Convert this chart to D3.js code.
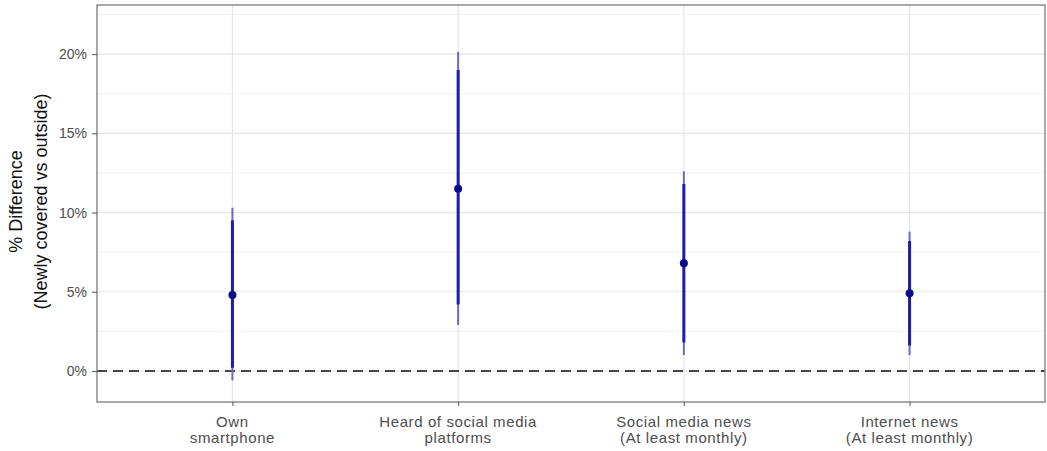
<!DOCTYPE html>
<html>
<head>
<meta charset="utf-8">
<script src="https://cdn.jsdelivr.net/npm/d3@7"></script>
<style>
  body { margin: 0; background: #fff; }
  text { font-family: 'Liberation Sans', Arial, sans-serif; }
</style>
</head>
<body>
<div id="chart"></div>
<script>
// estimates with two interval widths
const categories = [
  ['Own', 'smartphone'],
  ['Heard of social media', 'platforms'],
  ['Social media news', '(At least monthly)'],
  ['Internet news', '(At least monthly)']
]
const estimates = [4.8, 11.5, 6.8, 4.9]
const innerLow = [0.2, 4.2, 1.8, 1.6]
const innerHigh = [9.5, 19.0, 11.8, 8.2]
const outerLow = [-0.6, 2.9, 1.0, 1.0]
const outerHigh = [10.3, 20.15, 12.6, 8.8]
const yTicks = [0, 5, 10, 15, 20]
const yMinor = [2.5, 7.5, 12.5, 17.5, 22.5]

const margin = { top: 5, right: 2, bottom: 49, left: 97 }
const width = 1047 - margin.left - margin.right
const height = 451 - margin.top - margin.bottom

const svg = d3
  .select('#chart')
  .append('svg')
  .attr('width', 1047)
  .attr('height', 451)
  .append('g')
  .attr('transform', 'translate(' + margin.left + ',' + margin.top + ')')

const idx = d3.range(categories.length)

const xPositionScale = d3
  .scaleLinear()
  .domain([0.4, 4.6])
  .range([0, width])

const yPositionScale = d3
  .scaleLinear()
  .domain([-1.96, 23.1])
  .range([height, 0])

// grid
svg.selectAll('.minor')
  .data(yMinor)
  .enter()
  .append('line')
  .attr('x1', 0)
  .attr('x2', width)
  .attr('y1', d => yPositionScale(d))
  .attr('y2', d => yPositionScale(d))
  .attr('stroke', '#f2f2f2')
  .attr('stroke-width', 1)

svg.selectAll('.major')
  .data(yTicks)
  .enter()
  .append('line')
  .attr('x1', 0)
  .attr('x2', width)
  .attr('y1', d => yPositionScale(d))
  .attr('y2', d => yPositionScale(d))
  .attr('stroke', '#e6e6e6')
  .attr('stroke-width', 1.2)

svg.selectAll('.vgrid')
  .data(idx)
  .enter()
  .append('line')
  .attr('x1', d => xPositionScale(d + 1))
  .attr('x2', d => xPositionScale(d + 1))
  .attr('y1', 0)
  .attr('y2', height)
  .attr('stroke', '#e6e6e6')
  .attr('stroke-width', 1.2)

// zero line
svg.append('line')
  .attr('x1', 0)
  .attr('x2', width)
  .attr('y1', yPositionScale(0))
  .attr('y2', yPositionScale(0))
  .attr('stroke', '#444')
  .attr('stroke-width', 2)
  .attr('stroke-dasharray', '10,6')

// outer intervals
svg.selectAll('.outer')
  .data(idx)
  .enter()
  .append('line')
  .attr('x1', d => xPositionScale(d + 1))
  .attr('x2', d => xPositionScale(d + 1))
  .attr('y1', d => yPositionScale(outerLow[d]))
  .attr('y2', d => yPositionScale(outerHigh[d]))
  .attr('stroke', '#6a6ac4')
  .attr('stroke-width', 2)

// inner intervals
svg.selectAll('.inner')
  .data(idx)
  .enter()
  .append('line')
  .attr('x1', d => xPositionScale(d + 1))
  .attr('x2', d => xPositionScale(d + 1))
  .attr('y1', d => yPositionScale(innerLow[d]))
  .attr('y2', d => yPositionScale(innerHigh[d]))
  .attr('stroke', '#1d1da6')
  .attr('stroke-width', 3)

svg.selectAll('.point')
  .data(idx)
  .enter()
  .append('circle')
  .attr('cx', d => xPositionScale(d + 1))
  .attr('cy', d => yPositionScale(estimates[d]))
  .attr('r', 4)
  .attr('fill', '#0a0a8c')

// panel border
svg.append('rect')
  .attr('width', width)
  .attr('height', height)
  .attr('fill', 'none')
  .attr('stroke', '#7a7a7a')
  .attr('stroke-width', 1.3)

// y axis
const yAxis = d3.axisLeft(yPositionScale)
  .tickValues(yTicks)
  .tickSize(5)
  .tickPadding(5)
  .tickFormat(d => d + '%')
svg.append('g')
  .attr('class', 'axis y-axis')
  .call(yAxis)
  .call(g => g.select('.domain').remove())
  .call(g => g.selectAll('line').attr('stroke', '#555'))
  .call(g => g.selectAll('text').attr('font-size', 14).attr('fill', '#4d4d4d'))

// x axis
const xAxis = d3.axisBottom(xPositionScale)
  .tickValues(idx.map(d => d + 1))
  .tickSize(4)
  .tickFormat('')
svg.append('g')
  .attr('class', 'axis x-axis')
  .attr('transform', 'translate(0,' + height + ')')
  .call(xAxis)
  .call(g => g.select('.domain').remove())
  .call(g => g.selectAll('line').attr('stroke', '#555'))

svg.selectAll('.xlabel')
  .data(idx)
  .enter()
  .append('text')
  .attr('text-anchor', 'middle')
  .attr('font-size', 15)
  .attr('letter-spacing', 0.6)
  .attr('fill', '#4d4d4d')
  .attr('x', d => xPositionScale(d + 1))
  .attr('y', height + 25)
  .each(function (d) {
    d3.select(this).selectAll('tspan')
      .data(categories[d])
      .enter()
      .append('tspan')
      .attr('x', xPositionScale(d + 1))
      .attr('dy', (t, i) => i === 0 ? 0 : 16)
      .text(t => t)
  })

// y title
svg.append('text')
  .attr('transform', 'translate(-75,' + (height / 2 - 2) + ') rotate(-90)')
  .attr('text-anchor', 'middle')
  .attr('font-size', 18)
  .attr('fill', '#111')
  .selectAll('tspan')
  .data(['% Difference', '(Newly covered vs outside)'])
  .enter()
  .append('tspan')
  .attr('x', 0)
  .attr('dy', (t, i) => i === 0 ? 0 : 25)
  .text(t => t)
</script>
</body>
</html>
